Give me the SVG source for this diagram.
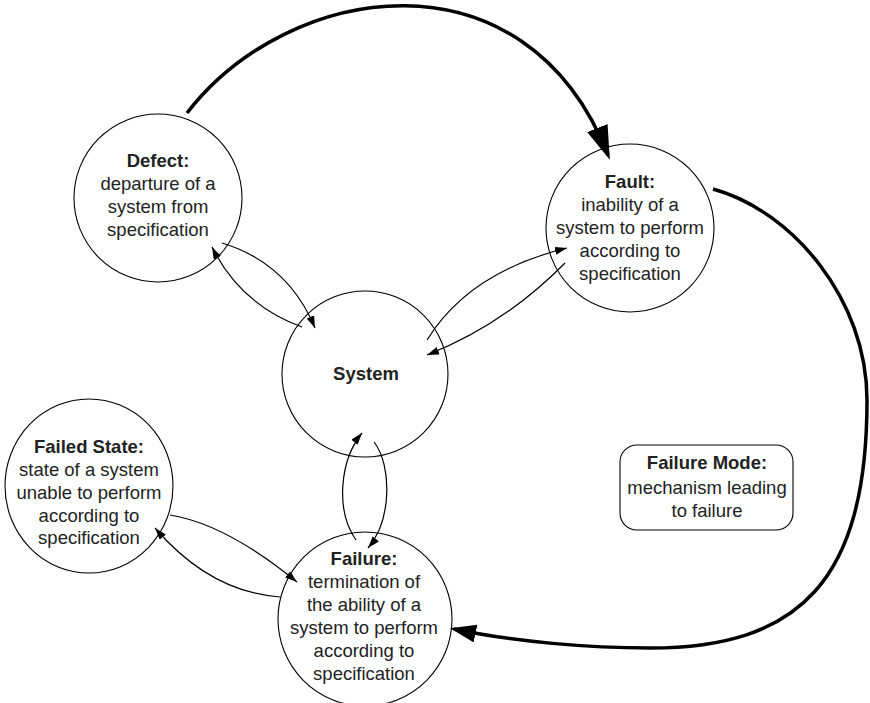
<svg xmlns="http://www.w3.org/2000/svg" width="870" height="703" viewBox="0 0 870 703">
<style>
  .node { fill: #ffffff; stroke: #000000; stroke-width: 1.1; }
  .t { font-family: "Liberation Sans", Arial, sans-serif; font-size: 18.5px; fill: #222222; text-anchor: middle; }
  .b { font-weight: bold; }
  .thin { fill: none; stroke: #000000; stroke-width: 1.2; }
  .thick { fill: none; stroke: #000000; stroke-width: 3.5; }
</style>
<defs>
  <marker id="ah" markerUnits="userSpaceOnUse" markerWidth="14" markerHeight="10" refX="12" refY="4" orient="auto">
    <path d="M0,0 L12,4 L0,8 z" fill="#000000"/>
  </marker>
  <marker id="ahBig" markerUnits="userSpaceOnUse" markerWidth="36" markerHeight="24" refX="29" refY="11" orient="auto">
    <path d="M0,0 L34,11 L0,22 z" fill="#000000"/>
  </marker>
  <marker id="ahMed" markerUnits="userSpaceOnUse" markerWidth="28" markerHeight="20" refX="22" refY="9" orient="auto">
    <path d="M0,0 L26,9 L0,18 z" fill="#000000"/>
  </marker>
</defs>
<rect width="870" height="703" fill="#ffffff"/>

<g id="defect">
  <circle class="node" cx="158" cy="198" r="84"/>
  <text class="t b" x="158" y="167">Defect:</text>
  <text class="t" x="158" y="190">departure of a</text>
  <text class="t" x="158" y="213">system from</text>
  <text class="t" x="158" y="236">specification</text>
</g>

<g id="fault">
  <circle class="node" cx="630" cy="228" r="84"/>
  <text class="t b" x="630" y="188">Fault:</text>
  <text class="t" x="630" y="211">inability of a</text>
  <text class="t" x="630" y="234">system to perform</text>
  <text class="t" x="630" y="257">according to</text>
  <text class="t" x="630" y="280">specification</text>
</g>

<g id="system">
  <circle class="node" cx="365" cy="374" r="83"/>
  <text class="t b" x="366" y="380">System</text>
</g>

<g id="failed-state">
  <ellipse class="node" cx="89" cy="486" rx="84" ry="87"/>
  <text class="t b" x="89" y="453">Failed State:</text>
  <text class="t" x="89" y="476">state of a system</text>
  <text class="t" x="89" y="499">unable to perform</text>
  <text class="t" x="89" y="522">according to</text>
  <text class="t" x="89" y="544">specification</text>
</g>

<g id="failure">
  <circle class="node" cx="365" cy="619" r="87"/>
  <text class="t b" x="364" y="565">Failure:</text>
  <text class="t" x="364" y="588">termination of</text>
  <text class="t" x="364" y="611">the ability of a</text>
  <text class="t" x="364" y="634">system to perform</text>
  <text class="t" x="364" y="657">according to</text>
  <text class="t" x="364" y="680">specification</text>
</g>

<g id="failure-mode">
  <rect class="node" x="620" y="445" width="173" height="85" rx="17" ry="17"/>
  <text class="t b" x="707" y="469">Failure Mode:</text>
  <text class="t" x="707" y="494">mechanism leading</text>
  <text class="t" x="707" y="517">to failure</text>
</g>

<g id="connectors">
  <path class="thick" d="M187,113 C289,-19 525,-55 608,155" marker-end="url(#ahBig)"/>
  <path class="thick" d="M713,189 C793,211 867,300 867,400 C867,580 800,648 650,648 C590,648 515,642 454,629" marker-end="url(#ahMed)"/>
  <path class="thin" d="M222,243 Q288,263 315,328" marker-end="url(#ah)"/>
  <path class="thin" d="M302,327 Q241,305 212,247" marker-end="url(#ah)"/>
  <path class="thin" d="M427,340 Q469,272 567,248" marker-end="url(#ah)"/>
  <path class="thin" d="M565,263 Q504,325 427,355" marker-end="url(#ah)"/>
  <path class="thin" d="M356,540 C335,510 340,460 362,433" marker-end="url(#ah)"/>
  <path class="thin" d="M374,442 C392,465 392,520 368,548" marker-end="url(#ah)"/>
  <path class="thin" d="M170,515 Q226,524 297,582" marker-end="url(#ah)"/>
  <path class="thin" d="M280,597 Q210,592 155,528" marker-end="url(#ah)"/>
</g>
</svg>
